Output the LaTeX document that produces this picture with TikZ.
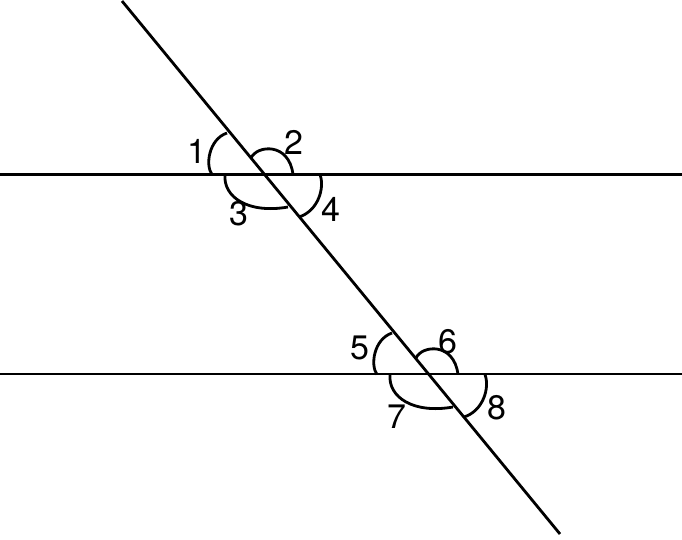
\documentclass[tikz,border=0pt]{standalone}
\usepackage{fontspec}
\setmainfont{TeX Gyre Heros}
\begin{document}
\begin{tikzpicture}[x=1pt,y=-1pt,
  ln/.style={line width=2.8pt},
  arcln/.style={line width=2.8pt},
  lbl/.style={inner sep=0pt,font=\fontsize{34}{34}\selectfont}]
\useasboundingbox (0,0) rectangle (682,539);
\coordinate (h1a) at (0,174.5);
\coordinate (h1b) at (682,174.5);
\coordinate (h2a) at (0,374);
\coordinate (h2b) at (682,374);
\coordinate (ta) at (122,1);
\coordinate (tb) at (560,534);
\draw[ln] (h1a) -- (h1b);
\draw[ln] (h2a) -- (h2b);
\draw[ln] (ta) -- (tb);
\foreach \dx/\dy in {0/0, 165/200}{
\begin{scope}[shift={(\dx,\dy)}]
  \draw[arcln] (227,133) .. controls (209,139) and (205,165) .. (212,174.5);
  \draw[arcln] (251,158) .. controls (257,145) and (289,142) .. (293,174.5);
  \draw[arcln] (225,174.5) .. controls (223,197) and (248,214) .. (288,207);
  \draw[arcln] (320,174.5) .. controls (325,188) and (318,211) .. (299,217);
\end{scope}}
\node[lbl] (n1) at (197,151) {1};
\node[lbl] (n2) at (294,142) {2};
\node[lbl] (n3) at (239,214) {3};
\node[lbl] (n4) at (331,209) {4};
\node[lbl] (n5) at (360,348) {5};
\node[lbl] (n6) at (448,342) {6};
\node[lbl] (n7) at (397,417) {7};
\node[lbl] (n8) at (497,408) {8};
\end{tikzpicture}
\end{document}
